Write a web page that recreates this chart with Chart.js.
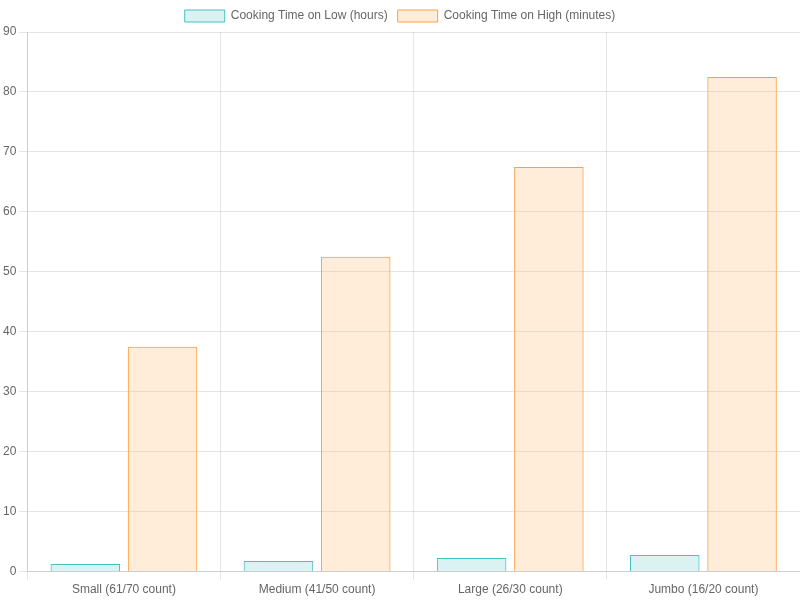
<!DOCTYPE html>
<html><head><meta charset="utf-8">
<script src="https://cdn.jsdelivr.net/npm/chart.js@4"></script>
<style>html,body{margin:0;padding:0;background:#fff}#wrap{width:800px;height:600px}</style>
</head><body><div id="wrap"><canvas id="c"></canvas></div>
<script>
const categories = ["Small (61/70 count)", "Medium (41/50 count)", "Large (26/30 count)", "Jumbo (16/20 count)"];
const lowHours = [1.25, 1.75, 2.25, 2.75];
const highMinutes = [37.5, 52.5, 67.5, 82.5];

new Chart(document.getElementById('c'), {
  type: 'bar',
  data: {
    labels: categories,
    datasets: [
      { label: 'Cooking Time on Low (hours)', data: lowHours, backgroundColor: 'rgba(75,192,192,0.2)', borderColor: 'rgb(75,192,192)', borderWidth: 1 },
      { label: 'Cooking Time on High (minutes)', data: highMinutes, backgroundColor: 'rgba(255,159,64,0.2)', borderColor: 'rgb(255,159,64)', borderWidth: 1 }
    ]
  },
  options: {
    responsive: true, maintainAspectRatio: false, animation: false,
    plugins: { legend: { position: 'top' } },
    scales: { y: { beginAtZero: true, max: 90, ticks: { stepSize: 10 } } }
  }
});
</script></body></html>
